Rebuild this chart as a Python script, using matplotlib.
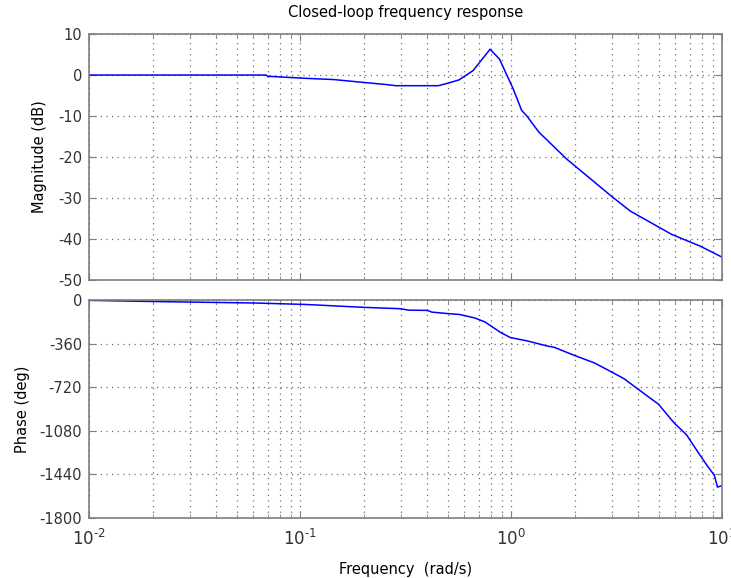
import numpy as np
import matplotlib.pyplot as plt
from matplotlib.ticker import FuncFormatter

# magnitude curve (rad/s, dB)
mag_freq = [0.01, 0.069, 0.07, 0.106, 0.144, 0.173, 0.253, 0.284, 0.452, 0.50,
            0.565, 0.66, 0.794, 0.88, 1.02, 1.12, 1.19, 1.35, 1.83, 2.97,
            3.66, 5.75, 7.87, 10.0]
mag_db = [0.0, 0.0, -0.3, -0.8, -1.1, -1.5, -2.3, -2.6, -2.6, -2.0,
          -1.2, 1.1, 6.3, 3.9, -3.3, -8.6, -10.1, -13.9, -20.5, -29.5,
          -33.2, -38.9, -41.8, -44.5]

# phase curve (rad/s, deg)
ph_freq = [0.01, 0.0224, 0.061, 0.106, 0.201, 0.298, 0.327, 0.40, 0.42, 0.49,
           0.57, 0.67, 0.75, 0.83, 0.89, 0.99, 1.19, 1.48, 1.60, 1.98,
           2.48, 3.00, 3.43, 3.98, 4.99, 5.91, 6.77, 7.74, 8.50, 9.17,
           9.5, 10.0]
ph_deg = [-3, -14, -25, -37, -61, -72, -84, -86, -100, -111,
          -120, -148, -181, -232, -268, -310, -338, -380, -391, -456,
          -520, -596, -651, -735, -861, -1015, -1113, -1267, -1370, -1448,
          -1546, -1532]

mag_ticks = [-50, -40, -30, -20, -10, 0, 10]
ph_ticks = [-1800, -1440, -1080, -720, -360, 0]

plt.rcParams['font.family'] = ['DejaVu Sans']
plt.rcParams['font.size'] = 10.5
plt.rcParams['axes.unicode_minus'] = False


def decade_label(x, pos):
    e = int(round(np.log10(x)))
    if e < 0:
        return r'$\mathdefault{10^{\text{-}%d}}$' % (-e)
    return r'$\mathdefault{10^{%d}}$' % e


fig = plt.figure(figsize=(7.31, 5.78), dpi=100)
ax1 = fig.add_axes([0.122, 0.516, 0.866, 0.425])
ax2 = fig.add_axes([0.122, 0.104, 0.866, 0.377])

edge = '#7f7f7f'
gstyle = dict(linestyle=(0, (1, 3.5)), color='#707070', linewidth=0.9)
for ax in (ax1, ax2):
    ax.set_xscale('log')
    ax.set_xlim(0.01, 10)
    ax.grid(True, which='both', axis='x', **gstyle)
    ax.grid(True, which='major', axis='y', **gstyle)
    ax.tick_params(which='both', direction='in', top=True, right=True, colors=edge,
                   labelcolor='#333333')
    ax.tick_params(which='major', length=5)
    ax.tick_params(which='minor', length=3)
    ax.tick_params(axis='y', pad=5)
    for s in ax.spines.values():
        s.set_color(edge)
        s.set_linewidth(1.2)

ax1.plot(mag_freq, mag_db, color='#0000ff', linewidth=1.1)
ax1.set_ylim(-50, 10)
ax1.set_yticks(mag_ticks)
ax1.tick_params(axis='x', which='both', labelbottom=False)
ax1.set_ylabel('Magnitude (dB)', labelpad=8)
ax1.set_title('Closed-loop frequency response', fontsize=10.5, pad=12)

ax2.plot(ph_freq, ph_deg, color='#0000ff', linewidth=1.1)
ax2.set_ylim(-1800, 0)
ax2.set_yticks(ph_ticks)
ax2.xaxis.set_major_formatter(FuncFormatter(decade_label))
ax2.set_ylabel('Phase (deg)', labelpad=7)
ax2.set_xlabel('Frequency  (rad/s)', labelpad=9)
ax2.tick_params(axis='x', which='major', labelsize=12, pad=8)

fig.savefig('out.png', dpi=100)
